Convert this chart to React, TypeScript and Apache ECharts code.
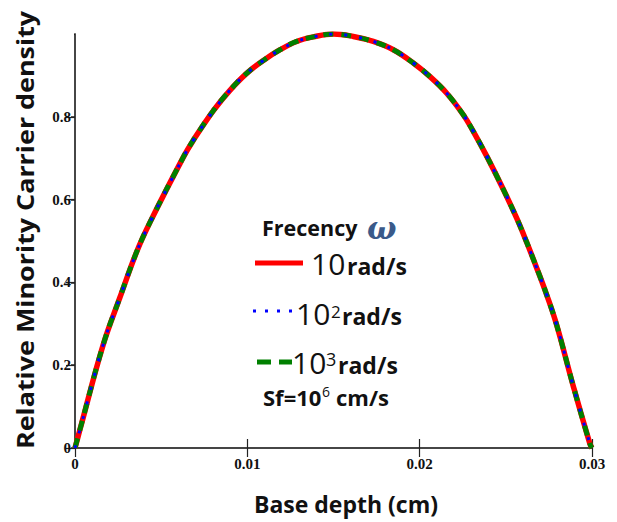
import React, { useEffect, useRef } from "react";
import * as echarts from "echarts";

// Base depth (cm)
const depth = [0, 0.00029, 0.00164, 0.00261, 0.00358, 0.00435, 0.00628, 0.00686, 0.00803, 0.00899, 0.00996, 0.01093, 0.0119, 0.01286, 0.01383, 0.015, 0.01615, 0.01731, 0.01847, 0.01963, 0.0206, 0.02157, 0.02253, 0.02311, 0.02389, 0.02485, 0.02563, 0.02621, 0.02679, 0.02737, 0.02795, 0.02891, 0.02988, 0.03];
// Relative minority carrier density (the three frequencies overlap)
const dens10 = [0, 0.045, 0.25, 0.364, 0.474, 0.545, 0.702, 0.743, 0.815, 0.864, 0.905, 0.936, 0.962, 0.982, 0.993, 1.0, 0.994, 0.982, 0.962, 0.93, 0.897, 0.857, 0.805, 0.765, 0.705, 0.625, 0.555, 0.497, 0.435, 0.37, 0.297, 0.15, 0.01, 0];
const dens100 = [0, 0.045, 0.25, 0.364, 0.474, 0.545, 0.702, 0.743, 0.815, 0.864, 0.905, 0.936, 0.962, 0.982, 0.993, 1.0, 0.994, 0.982, 0.962, 0.93, 0.897, 0.857, 0.805, 0.765, 0.705, 0.625, 0.555, 0.497, 0.435, 0.37, 0.297, 0.15, 0.01, 0];
const dens1000 = [0, 0.045, 0.25, 0.364, 0.474, 0.545, 0.702, 0.743, 0.815, 0.864, 0.905, 0.936, 0.962, 0.982, 0.993, 1.0, 0.994, 0.982, 0.962, 0.93, 0.897, 0.857, 0.805, 0.765, 0.705, 0.625, 0.555, 0.497, 0.435, 0.37, 0.297, 0.15, 0.01, 0];
const xTicks = ["0", "0.01", "0.02", "0.03"];
const yTicks = ["0", "0.2", "0.4", "0.6", "0.8"];
const yTickValues = [0, 0.2, 0.4, 0.6, 0.8];

const pair = (ys: number[]) => depth.map((x, i) => [x, ys[i]]);

export default function App() {
  const ref = useRef<HTMLDivElement>(null);
  useEffect(() => {
    if (!ref.current) return;
    const chart = echarts.init(ref.current, null, { renderer: "svg" });
    const sans = "Open Sans";
    const serif = "Liberation Serif";
    const axisLine = { show: true, lineStyle: { color: "#3a3a3a", width: 1.5 } };
    const txt = (x: number, y: number, text: string, fontSize: number, bold: boolean) => ({
      type: "text",
      x,
      y,
      style: {
        text,
        fontFamily: sans,
        fontWeight: bold ? "bold" : "normal",
        fontSize,
        fill: "#111",
        align: "left",
        verticalAlign: "middle",
      },
    });
    chart.setOption({
      animation: false,
      backgroundColor: "#ffffff",
      grid: { left: 75, right: 25, top: 34, bottom: 74 },
      xAxis: [
        {
          type: "value",
          min: 0,
          max: 0.03,
          interval: 0.01,
          position: "bottom",
          axisLine,
          axisTick: { show: true, inside: true, length: 9, lineStyle: { color: "#222", width: 1.2 } },
          splitLine: { show: false },
          axisLabel: {
            margin: 8,
            fontFamily: serif,
            fontWeight: "bold",
            fontSize: 15,
            color: "#111",
            formatter: (v: number) => xTicks[Math.round(v / 0.01)] ?? "",
          },
        },
        {
          type: "value",
          min: 0,
          max: 0.03,
          interval: 0.01,
          position: "top",
          axisLine,
          axisTick: { show: true, inside: true, length: 9, lineStyle: { color: "#222", width: 1.2 } },
          splitLine: { show: false },
          axisLabel: { show: false },
        },
      ],
      yAxis: [
        {
          type: "value",
          min: 0,
          max: 1,
          interval: 0.2,
          position: "left",
          axisLine,
          axisTick: { show: true, inside: false, length: 4, customValues: yTickValues, lineStyle: { color: "#222", width: 1.5 } },
          splitLine: { show: false },
          axisLabel: {
            margin: 4,
            customValues: yTickValues,
            fontFamily: serif,
            fontWeight: "bold",
            fontSize: 15,
            color: "#111",
            formatter: (v: number) => yTicks[Math.round(v / 0.2)] ?? "",
          },
        },
        {
          type: "value",
          min: 0,
          max: 1,
          interval: 0.2,
          position: "right",
          axisLine,
          axisTick: { show: true, inside: true, length: 9, lineStyle: { color: "#222", width: 1.2 } },
          splitLine: { show: false },
          axisLabel: { show: false },
        },
      ],
      series: [
        {
          name: "10 rad/s",
          type: "line",
          data: pair(dens10),
          smooth: 0.4,
          showSymbol: false,
          lineStyle: { color: "#ff0000", width: 5.5, type: "solid" },
          z: 2,
        },
        {
          name: "10^3 rad/s",
          type: "line",
          data: pair(dens1000),
          smooth: 0.4,
          showSymbol: false,
          lineStyle: { color: "#008000", width: 5, type: [10, 8] },
          z: 3,
        },
        {
          name: "10^2 rad/s",
          type: "line",
          data: pair(dens100),
          smooth: 0.4,
          showSymbol: false,
          lineStyle: { color: "#0000ff", width: 3, type: [3, 12] },
          z: 4,
        },
      ],
      graphic: [
        // mask the unlabelled outer tick at the top of the left axis
        { type: "rect", shape: { x: 66, y: 31, width: 8, height: 6 }, style: { fill: "#ffffff" }, z: 100 },
        {
          type: "text",
          x: 25,
          y: 230,
          rotation: Math.PI / 2,
          scaleX: 1.12,
          style: {
            text: "Relative Minority Carrier density",
            fontFamily: sans,
            fontWeight: "bold",
            fontSize: 24,
            fill: "#111",
            align: "center",
            verticalAlign: "middle",
          },
        },
        {
          type: "text",
          x: 346,
          y: 504,
          style: {
            text: "Base depth (cm)",
            fontFamily: sans,
            fontWeight: "bold",
            fontSize: 23,
            fill: "#111",
            align: "center",
            verticalAlign: "middle",
          },
        },
        // legend block
        txt(262, 227, "Frecency", 21.5, true),
        {
          type: "text",
          x: 367,
          y: 228,
          style: { text: "ω", fontFamily: "DejaVu Serif", fontStyle: "italic", fontWeight: "bold", fontSize: 31, fill: "#3a5a8a", align: "left", verticalAlign: "middle" },
        },
        { type: "line", shape: { x1: 255, y1: 263, x2: 303, y2: 263 }, style: { stroke: "#ff0000", lineWidth: 5 } },
        txt(311, 263.5, "10", 30, false),
        txt(347, 266, "rad/s", 23, true),

        { type: "line", shape: { x1: 253, y1: 311, x2: 296, y2: 311 }, style: { stroke: "#0000ff", lineWidth: 3, lineDash: [3, 9] } },
        txt(296, 313.5, "10", 30, false),
        txt(331, 311.5, "2", 17, false),
        txt(342, 316, "rad/s", 23, true),

        { type: "line", shape: { x1: 257, y1: 362, x2: 292, y2: 362 }, style: { stroke: "#008000", lineWidth: 5, lineDash: [14, 8] } },
        txt(292, 362.5, "10", 30, false),
        txt(326, 359, "3", 18, false),
        txt(338, 365, "rad/s", 23, true),

        txt(263, 397.3, "Sf=10", 22, true),
        txt(322, 391.5, "6", 14, false),
        txt(336, 397.3, "cm/s", 22, true),
      ],
    });
    return () => chart.dispose();
  }, []);
  return <div ref={ref} style={{ position: "fixed", left: 0, top: 0, width: 617, height: 522 }} />;
}
